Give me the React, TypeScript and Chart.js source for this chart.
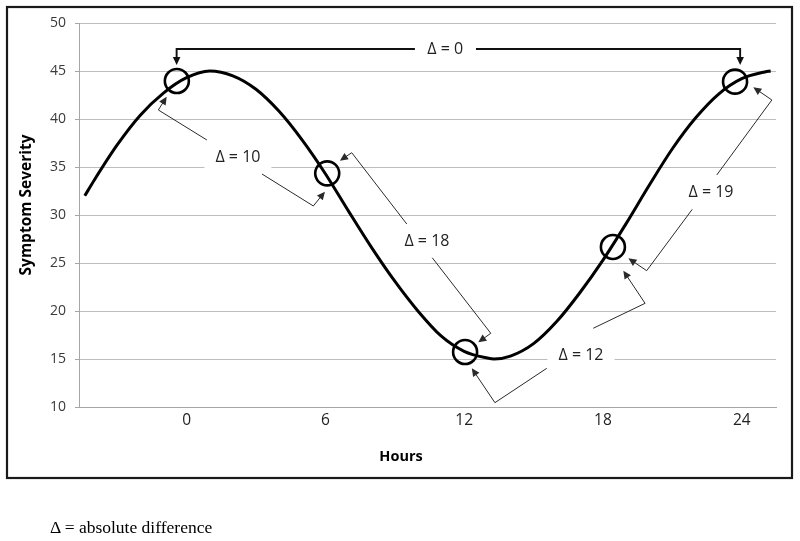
import React, { useEffect, useRef } from 'react';
import { Chart, registerables } from 'chart.js';

Chart.register(...registerables);

// ---- data ----
const HOURS = [-4.4, -4, -3, -2, -1, 0, 1, 2, 3, 4, 5, 6, 7, 8, 9, 10, 11, 12, 13, 13.3, 14, 15, 16, 17, 18, 19, 20, 21, 22, 23, 24, 25, 25.25];
const SEVERITY = [32.0, 33.6, 37.3, 40.4, 42.7, 44.3, 45.0, 44.5, 43.1, 40.8, 37.8, 34.3, 30.4, 26.6, 23.1, 20.0, 17.4, 15.8, 15.1, 15.0, 15.3, 16.6, 18.9, 21.9, 25.3, 29.1, 33.1, 36.9, 40.1, 42.6, 44.2, 44.9, 45.0];

const X_TICKS = [0, 6, 12, 18, 24];
const X_MIN = -4.65;
const X_MAX = 25.48;
const Y_MIN = 10;
const Y_MAX = 50;
const Y_STEP = 5;

// circled time points
const MARK_HOURS = [-0.42, 6.08, 12.04, 18.43, 23.71];
const MARK_SEVERITY = [43.96, 34.34, 15.73, 26.67, 43.89];

// difference annotations
const DELTA_LABELS = ['Δ = 0', 'Δ = 10', 'Δ = 18', 'Δ = 12', 'Δ = 19'];
const DELTA_LABEL_HOURS = [11.18, 2.22, 10.39, 17.05, 22.67];
const DELTA_LABEL_SEVERITY = [47.29, 36.04, 27.29, 15.42, 32.34];
// each annotation: two legs, each a list of [hour, severity]; last point is the arrow tip
const DELTA_LEGS: number[][][][] = [
  [
    [[9.87, 47.29], [-0.43, 47.29], [-0.43, 45.63]],
    [[12.51, 47.29], [23.93, 47.29], [23.93, 45.63]],
  ],
  [
    [[0.88, 37.81], [-1.22, 40.94], [-0.86, 42.32]],
    [[3.26, 34.27], [5.48, 30.94], [5.98, 32.43]],
  ],
  [
    [[9.52, 29.06], [7.14, 36.49], [6.63, 35.66]],
    [[10.62, 25.55], [13.15, 17.68], [12.61, 16.74]],
  ],
  [
    [[15.57, 14.03], [13.33, 10.45], [12.33, 14.03]],
    [[17.58, 18.2], [19.82, 20.8], [18.88, 24.2]],
  ],
  [
    [[21.86, 30.59], [19.89, 24.2], [19.1, 25.49]],
    [[22.92, 34.17], [25.3, 41.98], [24.5, 43.3]],
  ],
];

const X_TITLE = 'Hours';
const Y_TITLE = 'Symptom Severity';
const FOOTNOTE = 'Δ = absolute difference';

const SANS = "'Open Sans', 'DejaVu Sans', sans-serif";
const LABEL_FONT = `16px ${SANS}`;

const annotationPlugin = {
  id: 'deltaAnnotations',
  beforeDatasetsDraw(chart: any) {
    const { ctx, scales } = chart;
    const xs = scales.x;
    const ys = scales.y;
    ctx.save();
    ctx.font = LABEL_FONT;
    DELTA_LABELS.forEach((t, i) => {
      const px = xs.getPixelForValue(DELTA_LABEL_HOURS[i]);
      const py = ys.getPixelForValue(DELTA_LABEL_SEVERITY[i]);
      const w = ctx.measureText(t).width + 22;
      ctx.fillStyle = '#ffffff';
      ctx.fillRect(px - w / 2, py - 13, w, 26);
    });
    ctx.restore();
  },
  afterDatasetsDraw(chart: any) {
    const { ctx, scales } = chart;
    const xs = scales.x;
    const ys = scales.y;
    ctx.save();
    DELTA_LEGS.forEach((legs, i) => {
      const lw = i === 0 ? 1.9 : 1;
      const color = i === 0 ? '#111111' : '#2a2a2a';
      legs.forEach((leg) => {
        const pts = leg.map(([h, v]) => [xs.getPixelForValue(h), ys.getPixelForValue(v)]);
        const n = pts.length;
        const tip = pts[n - 1];
        const prev = pts[n - 2];
        const dx = tip[0] - prev[0];
        const dy = tip[1] - prev[1];
        const len = Math.hypot(dx, dy) || 1;
        const ux = dx / len;
        const uy = dy / len;
        const headLen = 8;
        const headW = 3.8;
        ctx.strokeStyle = color;
        ctx.lineWidth = lw;
        ctx.lineJoin = 'miter';
        ctx.beginPath();
        ctx.moveTo(pts[0][0], pts[0][1]);
        for (let k = 1; k < n - 1; k++) ctx.lineTo(pts[k][0], pts[k][1]);
        ctx.lineTo(tip[0] - ux * headLen * 0.8, tip[1] - uy * headLen * 0.8);
        ctx.stroke();
        ctx.fillStyle = color;
        ctx.beginPath();
        ctx.moveTo(tip[0], tip[1]);
        ctx.lineTo(tip[0] - ux * headLen - uy * headW, tip[1] - uy * headLen + ux * headW);
        ctx.lineTo(tip[0] - ux * headLen + uy * headW, tip[1] - uy * headLen - ux * headW);
        ctx.closePath();
        ctx.fill();
      });
    });
    ctx.font = LABEL_FONT;
    ctx.fillStyle = '#222222';
    ctx.textAlign = 'center';
    ctx.textBaseline = 'middle';
    DELTA_LABELS.forEach((t, i) => {
      ctx.fillText(t, xs.getPixelForValue(DELTA_LABEL_HOURS[i]), ys.getPixelForValue(DELTA_LABEL_SEVERITY[i]));
    });
    ctx.restore();
  },
  afterDraw(chart: any) {
    const { ctx } = chart;
    ctx.save();
    // outer frame
    ctx.strokeStyle = '#1a1a1a';
    ctx.lineWidth = 2.2;
    ctx.strokeRect(7, 7, 785, 471);
    // axis titles
    ctx.fillStyle = '#000000';
    ctx.textAlign = 'center';
    ctx.textBaseline = 'middle';
    ctx.font = `bold 14.5px ${SANS}`;
    ctx.fillText(X_TITLE, 401, 457);
    ctx.font = `bold 15.5px ${SANS}`;
    ctx.translate(27, 205);
    ctx.rotate(-Math.PI / 2);
    ctx.fillText(Y_TITLE, 0, 0);
    ctx.restore();
  },
};

export default function App() {
  const canvasRef = useRef<HTMLCanvasElement | null>(null);

  useEffect(() => {
    if (!canvasRef.current) return;
    const curve = HOURS.map((h, i) => ({ x: h, y: SEVERITY[i] }));
    const marks = MARK_HOURS.map((h, i) => ({ x: h, y: MARK_SEVERITY[i] }));
    const chart = new Chart(canvasRef.current, {
      type: 'line',
      data: {
        datasets: [
          {
            label: 'Symptom Severity',
            data: curve,
            borderColor: '#000000',
            borderWidth: 3,
            pointRadius: 0,
            cubicInterpolationMode: 'monotone',
            fill: false,
            order: 2,
          },
          {
            label: 'Time points',
            data: marks,
            showLine: false,
            pointRadius: 12,
            pointHoverRadius: 12,
            pointBorderWidth: 2.6,
            pointBorderColor: '#000000',
            pointBackgroundColor: 'rgba(0,0,0,0)',
            borderColor: '#000000',
            order: 1,
          },
        ],
      },
      options: {
        responsive: false,
        maintainAspectRatio: false,
        animation: false,
        devicePixelRatio: 1,
        events: [],
        layout: { padding: { left: 0, top: 23, right: 24, bottom: 94 } },
        plugins: {
          legend: { display: false },
          tooltip: { enabled: false },
          title: { display: false },
        },
        scales: {
          x: {
            type: 'linear',
            min: X_MIN,
            max: X_MAX,
            afterBuildTicks: (axis: any) => {
              axis.ticks = X_TICKS.map((v) => ({ value: v }));
            },
            afterFit: (axis: any) => {
              axis.height = 40;
            },
            grid: { display: false, drawTicks: false },
            border: { display: true, color: '#a6a6a6', width: 1 },
            ticks: {
              padding: 4,
              maxRotation: 0,
              autoSkip: false,
              color: '#222222',
              font: { family: SANS, size: 15.5 },
              callback: (v: any) => String(v),
            },
          },
          y: {
            type: 'linear',
            min: Y_MIN,
            max: Y_MAX,
            afterFit: (axis: any) => {
              axis.width = 79;
            },
            grid: { display: true, color: '#bdbdbd', lineWidth: 1, drawTicks: true, tickLength: 4, tickColor: '#a6a6a6' },
            border: { display: true, color: '#a6a6a6', width: 1 },
            ticks: {
              stepSize: Y_STEP,
              padding: 9,
              color: '#3a3a3a',
              font: { family: SANS, size: 14 },
            },
          },
        },
      },
      plugins: [annotationPlugin],
    });
    return () => chart.destroy();
  }, []);

  return (
    <div style={{ position: 'absolute', left: 0, top: 0, width: 800, height: 541, background: '#ffffff' }}>
      <canvas ref={canvasRef} width={800} height={541} style={{ display: 'block', width: 800, height: 541 }} />
      <div
        style={{
          position: 'absolute',
          left: 50,
          top: 517,
          fontFamily: "'Liberation Serif', 'Times New Roman', serif",
          fontSize: 17.5,
          color: '#000000',
          whiteSpace: 'nowrap',
          lineHeight: 'normal',
        }}
      >
        {FOOTNOTE}
      </div>
    </div>
  );
}
